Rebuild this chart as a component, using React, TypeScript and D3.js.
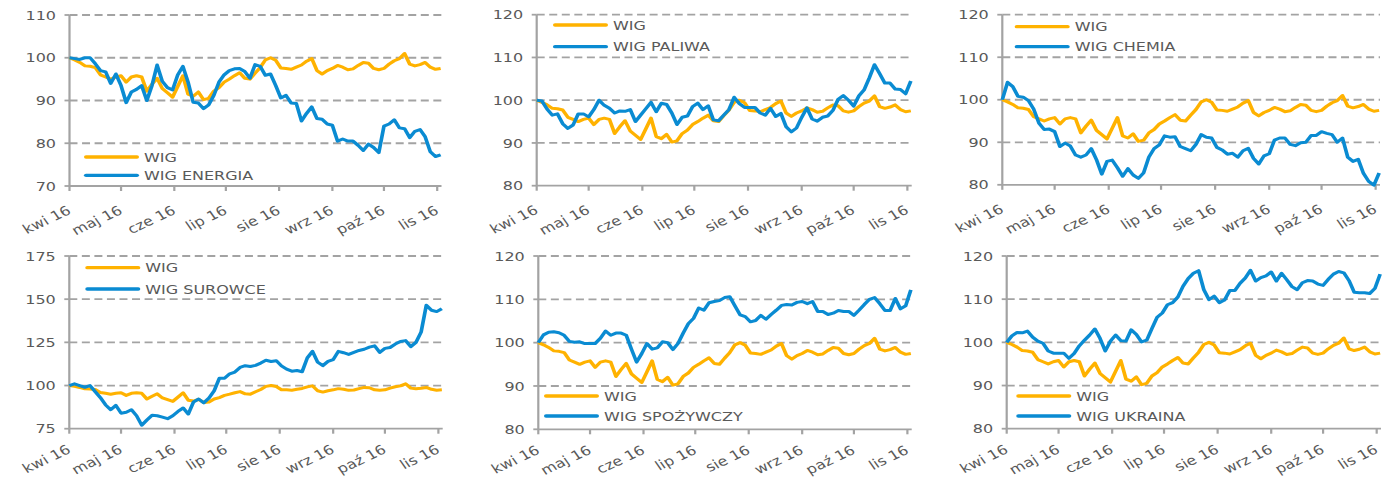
import React from "react";
import * as d3 from "d3";

// the source picture is stretched horizontally, so we draw narrow and stretch it back
const SX = 1.23;
const W = 1393;
const H = 479;

const start = new Date(2016, 3, 1);
const end = new Date(2016, 10, 3, 12);
// one sample every 3 days, Apr 1 .. Nov 3
const dates = d3.range(73).map((i) => d3.timeDay.offset(start, i * 3));
const monthLabels = ["kwi 16", "maj 16", "cze 16", "lip 16", "sie 16", "wrz 16", "paź 16", "lis 16"];

const wig = [
  100, 99.5, 98.9, 98.1, 98, 97.7, 96, 95.5, 95, 95.5, 95.8, 94.3,
  95.5, 95.8, 95.5, 92.2, 93.8, 95.2, 92.8, 91.8, 90.8, 93.3, 95.8, 91.5,
  91, 92, 90.2, 90.5, 92.2, 93, 94.3, 95, 95.8, 96.5, 95.2, 95,
  96.4, 97.7, 99.5, 100, 99.4, 97.6, 97.5, 97.3, 97.8, 98.3, 99.2, 99.8,
  97, 96.2, 97, 97.5, 98.2, 97.8, 97.2, 97.4, 98.2, 98.9, 98.7, 97.5,
  97.2, 97.5, 98.5, 99.3, 99.8, 101, 98.5, 98.1, 98.4, 98.9, 97.8, 97.3,
  97.5,
];

const energia = [
  100, 99.8, 99.6, 100, 100, 98.6, 97, 96.7, 94, 96.2, 93.5, 89.5,
  92, 92.6, 93.5, 90, 93.5, 98.3, 94.5, 93, 92.5, 96, 98, 94.3,
  89.6, 89.4, 88.1, 89, 91.2, 94.3, 96, 97, 97.4, 97.5, 96.8, 95.2,
  98.4, 98, 95.9, 96.2, 93.5, 90.6, 91.2, 89.4, 89.3, 85.2, 87, 88.5,
  85.8, 85.6, 84.5, 84.2, 80.5, 81, 80.5, 80.5, 79.5, 78.3, 79.8, 79,
  77.8, 84, 84.5, 85.5, 83.6, 83.4, 81.3, 82.8, 83.2, 81.5, 78, 76.9,
  77.3,
];

const paliwa = [
  100, 99.8, 97.9, 96.5, 96.8, 94.5, 93.4, 94.2, 96.8, 96.8, 96.1, 97.8,
  100, 98.8, 98.1, 97, 97.5, 97.4, 97.8, 95, 96.5, 98, 99.5, 97.3,
  99.3, 99, 97, 94.3, 96, 96.3, 98.5, 99.3, 97.8, 98.7, 95.4, 95.2,
  96.5, 97.8, 100.7, 99.2, 98.3, 98.3, 98.3, 97, 96.5, 98.1, 96.2, 96.9,
  93.8, 92.6, 93.5, 96, 98.2, 95.6, 95.1, 96, 96.3, 97.6, 100.2, 101.1,
  100, 98.6, 101, 102.4, 105.2, 108.3, 106.2, 104, 104, 102.6, 102.5, 101.5,
  104.5,
];

const chemia = [
  100, 104.1, 103.1, 100.8, 100.6, 99.8, 97.8, 94.5, 93, 93.1, 92.5, 89,
  89.8, 89.1, 87, 86.5, 87, 88.5, 85.9, 82.5, 85.5, 85.8, 84, 82,
  83.8, 82.3, 81.5, 82.8, 86.5, 88.5, 89.4, 91.5, 91.2, 91.3, 89, 88.5,
  88, 89.5, 91.8, 91.2, 91, 88.8, 88.2, 87.2, 87.4, 86.5, 88, 88.6,
  86.2, 84.9, 86.8, 87.3, 90.5, 91, 91, 89.5, 89.2, 89.9, 90, 91.6,
  91.6, 92.5, 92.1, 91.8, 90, 91, 86.5, 85.5, 86, 82.7, 80.8, 79.9,
  82.8,
];

const surowce = [
  100, 101, 100, 99, 100, 96.5, 93, 88.8, 86, 88.5, 84, 84.5,
  86, 82.5, 77, 80, 82.8, 82.5, 81.7, 80.8, 82.5, 85, 87, 83.5,
  90.5, 92.2, 90, 92.8, 97, 104.2, 104.2, 106.8, 107.8, 110.5, 111.5, 111,
  111.7, 113, 114.6, 113.9, 114.4, 111.4, 109.5, 108.3, 108.7, 108, 116, 119.8,
  113.5, 111.5, 114, 115, 119.8, 119, 118, 119.2, 120.3, 121, 122.2, 123,
  119.2, 121.5, 122, 124, 125.5, 126, 122.5, 125, 131, 146.5, 143.6, 142.8,
  144.5,
];

const spozywczy = [
  100, 101.8, 102.4, 102.5, 102.3, 101.7, 100.3, 100.1, 100.2, 99.8, 99.8, 99.8,
  101, 102.7, 101.7, 102.2, 102.2, 101.7, 98.5, 95.5, 97.5, 99.8, 98.5, 98.8,
  100.2, 100, 98.4, 99.8, 102.2, 104.4, 105.6, 108, 107.5, 109.2, 109.5, 109.7,
  110.4, 110.6, 108.5, 106.4, 106, 104.8, 105.1, 106.3, 105.4, 106.5, 107.5, 108.6,
  108.8, 108.7, 109.3, 109.5, 109, 109.5, 107.2, 107.2, 106.5, 106.8, 107.4, 107.2,
  107.2, 106.3, 107.5, 108.8, 110, 110.4, 109, 107.4, 107.4, 110.2, 107.8, 108.5,
  112.2,
];

const ukraina = [
  100, 101.5, 102.3, 102.2, 102.6, 101.2, 100.3, 99.8, 98, 97.5, 97.5, 97.5,
  96.3, 97.4, 99.2, 100.5, 101.7, 103.1, 100.9, 98, 100.3, 101.7, 100.4, 100.3,
  102.9, 101.8, 100.1, 100.5, 103.2, 105.8, 106.8, 108.7, 109.2, 110.5, 113, 114.8,
  116, 116.6, 112.2, 109.9, 110.7, 109.2, 109.8, 112, 112, 113.7, 114.9, 116.7,
  114.2, 115, 115.4, 116.3, 114.2, 116, 114.5, 112.9, 112.2, 113.8, 114.3, 114.2,
  113.5, 113.2, 114.6, 115.8, 116.4, 116.1, 114.3, 111.6, 111.5, 111.5, 111.3, 112.5,
  115.8,
];

const sectorNames = ["WIG ENERGIA", "WIG PALIWA", "WIG CHEMIA", "WIG SUROWCE", "WIG SPOŻYWCZY", "WIG UKRAINA"];
const sectorValues = [energia, paliwa, chemia, surowce, spozywczy, ukraina];
const yTickSets = [
  [70, 80, 90, 100, 110],
  [80, 90, 100, 110, 120],
  [80, 90, 100, 110, 120],
  [75, 100, 125, 150, 175],
  [80, 90, 100, 110, 120],
  [80, 90, 100, 110, 120],
];

// plot boxes in screen px: left, right, top, bottom, month label drop
const boxes = [
  [69.5, 441.5, 15, 186, 27],
  [536.7, 911.7, 14.7, 185.7, 27],
  [1002.3, 1380, 14.7, 184.8, 27],
  [69.3, 442.7, 256, 428.7, 23.5],
  [538.3, 911.7, 256, 429.3, 23.5],
  [1006.7, 1381, 256, 428.7, 23.5],
];
// legend: line start x, first row y, row gap (screen px)
const legends = [
  [86, 157, 18.3],
  [555, 25, 21.7],
  [1016.7, 26.7, 20],
  [87.3, 267.7, 21.3],
  [546, 396, 20],
  [1018.3, 396, 20],
];

const YELLOW = "#FFB200";
const BLUE = "#0A8BD2";
const GREY = "#A3A3A3";
const TEXT = "#595959";
const FONT = "Verdana, 'DejaVu Sans', sans-serif";

function Panel({ i }: { i: number }) {
  const [bx0, bx1, by0, by1, drop] = boxes[i];
  const ticks = yTickSets[i];
  const x = d3.scaleTime().domain([start, end]).range([bx0 / SX, bx1 / SX]);
  const y = d3.scaleLinear().domain([ticks[0], ticks[ticks.length - 1]]).range([by1, by0]);
  const line = d3
    .line<number>()
    .x((_, j) => x(dates[j]))
    .y((d) => y(d));
  const months = d3.timeMonth.range(start, new Date(2016, 10, 2));
  const [lx, ly, lgap] = legends[i];
  const left = bx0 / SX;
  const right = bx1 / SX;

  return (
    <g>
      {ticks.slice(1).map((t) => (
        <line key={"g" + t} x1={left} x2={right} y1={y(t)} y2={y(t)} stroke={GREY} strokeWidth={1.8} strokeDasharray="6.5 3.7" />
      ))}
      {ticks.map((t) => (
        <line key={"t" + t} x1={left - 5 / SX} x2={left} y1={y(t)} y2={y(t)} stroke={GREY} strokeWidth={1.8} />
      ))}
      <line x1={left} x2={left} y1={by0} y2={by1} stroke={GREY} strokeWidth={1.8} />
      <line x1={left} x2={right} y1={by1} y2={by1} stroke={GREY} strokeWidth={1.8} />
      {months.map((m) => (
        <line key={"m" + +m} x1={x(m)} x2={x(m)} y1={by1} y2={by1 + 5} stroke={GREY} strokeWidth={1.8} />
      ))}
      {ticks.map((t) => (
        <text key={"l" + t} x={left - 13.5 / SX} y={y(t)} dy="0.36em" textAnchor="end" fontSize={13} fill={TEXT}>
          {t}
        </text>
      ))}
      {months.map((m, k) => (
        <text
          key={"ml" + +m}
          transform={`translate(${x(m) + 2.5 / SX},${by1 + drop}) rotate(-30)`}
          textAnchor="end"
          fontSize={13}
          fill={TEXT}
        >
          {monthLabels[k]}
        </text>
      ))}
      <path d={line(wig) || ""} fill="none" stroke={YELLOW} strokeWidth={3} strokeLinejoin="round" />
      <path d={line(sectorValues[i]) || ""} fill="none" stroke={BLUE} strokeWidth={3} strokeLinejoin="round" />
      {[["WIG", YELLOW], [sectorNames[i], BLUE]].map(([name, c], k) => (
        <g key={name}>
          <line x1={lx / SX} x2={(lx + 51) / SX} y1={ly + k * lgap} y2={ly + k * lgap} stroke={c} strokeWidth={3.3} strokeLinecap="round" />
          <text x={(lx + 58) / SX} y={ly + k * lgap} dy="0.36em" fontSize={13} fill={TEXT}>
            {name}
          </text>
        </g>
      ))}
    </g>
  );
}

export default function App() {
  return (
    <svg
      width={W}
      height={H}
      viewBox={`0 0 ${W / SX} ${H}`}
      preserveAspectRatio="none"
      style={{ position: "absolute", left: 0, top: 0, background: "#fff", fontFamily: FONT }}
    >
      {sectorNames.map((_, i) => (
        <Panel key={i} i={i} />
      ))}
    </svg>
  );
}
